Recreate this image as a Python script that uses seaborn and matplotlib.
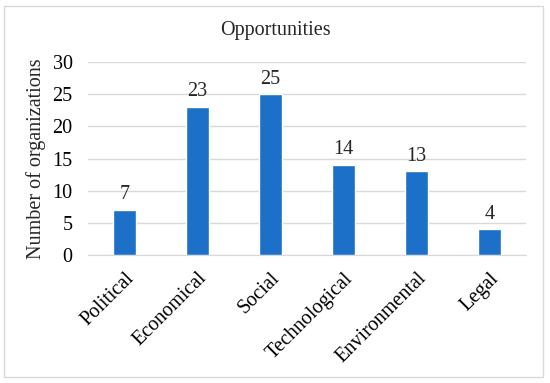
import matplotlib.pyplot as plt
import pandas as pd
import seaborn as sns
from matplotlib.patches import Rectangle

categories = ["Political", "Economical", "Social", "Technological", "Environmental", "Legal"]
counts = [7, 23, 25, 14, 13, 4]
y_ticks = [0, 5, 10, 15, 20, 25, 30]

sns.set_style("white")
plt.rcParams['font.family'] = ['Liberation Serif', 'DejaVu Serif']

df = pd.DataFrame({"category": categories, "count": counts})

fig = plt.figure(figsize=(5.5, 3.83), dpi=100)
ax = fig.add_axes([88 / 550, 1 - 255 / 383, (526 - 88) / 550, (255 - 62) / 383])

sns.barplot(data=df, x="category", y="count", color="#1C70C8", width=0.32,
            saturation=1, ax=ax, zorder=3)

fs = 14.5
ax.set_ylim(0, 30)
ax.set_yticks(y_ticks)
ax.yaxis.grid(True, color="#d9d9d9", linewidth=1, zorder=0)
ax.set_axisbelow(True)
for s in ["top", "right", "left"]:
    ax.spines[s].set_visible(False)
ax.spines["bottom"].set_color("#d9d9d9")
ax.tick_params(axis="both", length=0, labelsize=fs, colors="black")
ax.tick_params(axis="y", pad=11)
ax.tick_params(axis="x", pad=10)
plt.setp(ax.get_xticklabels(), rotation=45, ha="right", rotation_mode="anchor")

for c in ax.containers:
    ax.bar_label(c, fontsize=fs, padding=4)

ax.set_xlabel("")
ax.set_ylabel("Number of organizations", fontsize=fs, labelpad=5)
fig.text(0.5, 1 - 31 / 383, "Opportunities", ha="center", va="center", fontsize=fs)

fig.patches.append(Rectangle((4 / 550, 6 / 383), 539 / 550, 371 / 383, transform=fig.transFigure,
                             fill=False, edgecolor="#d9d9d9", linewidth=1))

plt.savefig("out.png", dpi=100)
